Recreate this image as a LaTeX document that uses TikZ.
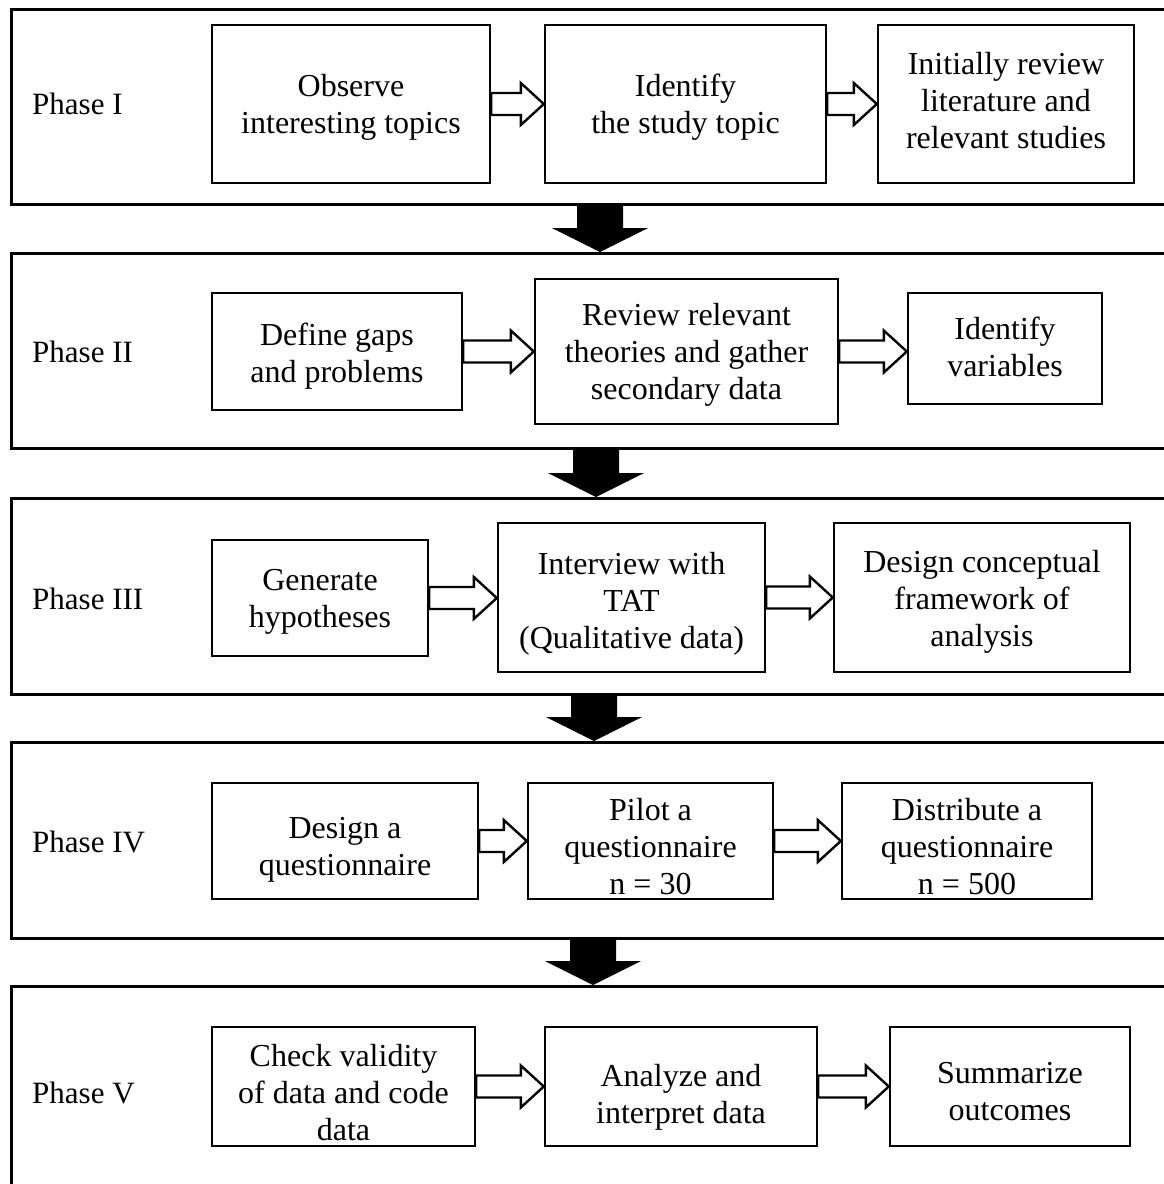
\documentclass[tikz,border=0pt]{standalone}
\usepackage{fontspec}
\setmainfont{Liberation Serif}
\usetikzlibrary{calc}

\tikzset{
  phasebox/.style={draw, line width=2.6pt, anchor=north west, minimum width=1220pt, inner sep=0pt},
  stagebox/.style={draw, line width=2.4pt, inner sep=2pt,
    font=\fontsize{32}{37}\selectfont},
  phaselabel/.style={anchor=west, inner sep=0pt, font=\fontsize{31}{37}\selectfont},
  hollowarrow/.style={draw, line width=2.4pt, fill=white, line join=miter},
  blockarrow/.style={fill=black, draw=none}
}

% stage box: name, centre x, centre y, width, height, text drop, text
\newcommand{\stage}[7]{%
  \node[stagebox, minimum width=#4pt, minimum height=#5pt] (#1) at (#2,#3)
    {\raisebox{-#6pt}[\height][\depth]{\begin{tabular}{@{}c@{}}#7\end{tabular}}};}

% hollow arrow between two stage boxes, at the height of the first box's centre
\newcommand{\hollowlink}[2]{%
  \path[hollowarrow] let \p1=(#1.east), \p2=(#2.west) in
    (\x1,\y1+11pt) -- (\x2-23pt,\y1+11pt) -- (\x2-23pt,\y1+21pt) -- (\x2,\y1)
    -- (\x2-23pt,\y1-21pt) -- (\x2-23pt,\y1-11pt) -- (\x1,\y1-11pt) -- cycle;}

% solid black arrow from one phase box down to the next, at column #3
\newcommand{\phaselink}[3]{%
  \path[blockarrow] let \p1=(#1.south), \p2=(#2.north) in
    (#3pt-23pt,\y1) -- (#3pt+23pt,\y1) -- (#3pt+23pt,\y2+24pt) -- (#3pt+48pt,\y2+24pt)
    -- (#3pt,\y2) -- (#3pt-48pt,\y2+24pt) -- (#3pt-23pt,\y2+24pt) -- cycle;}

\begin{document}
\begin{tikzpicture}[x=1pt,y=-1pt]
\useasboundingbox (0,0) rectangle (1164,1184);
\clip (0,0) rectangle (1164,1184);
\fill[white] (0,0) rectangle (1164,1184);

% phase frames
\node[phasebox, minimum height=195pt] (P1) at (10,8) {};
\node[phasebox, minimum height=195pt] (P2) at (10,252) {};
\node[phasebox, minimum height=196pt] (P3) at (10,497) {};
\node[phasebox, minimum height=196pt] (P4) at (10,741) {};
\node[phasebox, minimum height=260pt] (P5) at (10,985) {};

% phase labels
\node[phaselabel] (L1) at (32,104) {Phase I};
\node[phaselabel] (L2) at (32,352) {Phase II};
\node[phaselabel] (L3) at (32,599) {Phase III};
\node[phaselabel] (L4) at (32,842) {Phase IV};
\node[phaselabel] (L5) at (32,1093) {Phase V};

% Phase I
\stage{b11}{351}{104}{278}{158}{4}{Observe\\interesting topics}
\stage{b12}{685.5}{104}{281}{158}{4}{Identify\\the study topic}
\stage{b13}{1006}{104}{256}{158}{0}{Initially review\\literature and\\relevant studies}

% Phase II
\stage{b21}{337}{351.5}{250}{117}{5}{Define gaps\\and problems}
\stage{b22}{686.5}{351.5}{303}{145}{4}{Review relevant\\theories and gather\\secondary data}
\stage{b23}{1005}{348.5}{194}{111}{2}{Identify\\variables}

% Phase III
\stage{b31}{320}{598}{216}{116}{4}{Generate\\hypotheses}
\stage{b32}{631.5}{597.5}{267}{149}{7}{Interview with\\TAT\\(Qualitative data)}
\stage{b33}{982}{597.5}{296}{149}{5}{Design conceptual\\framework of\\analysis}

% Phase IV
\stage{b41}{345}{841}{266}{116}{9}{Design a\\questionnaire}
\stage{b42}{650.5}{841}{245}{116}{9}{Pilot a\\questionnaire\\n = 30}
\stage{b43}{967}{841}{250}{116}{9}{Distribute a\\questionnaire\\n = 500}

% Phase V
\stage{b51}{343.5}{1086.5}{263}{119}{10}{Check validity\\of data and code\\data}
\stage{b52}{681}{1086.5}{272}{119}{11}{Analyze and\\interpret data}
\stage{b53}{1010}{1086.5}{240}{119}{8}{Summarize\\outcomes}

% links within each phase
\hollowlink{b11}{b12}
\hollowlink{b12}{b13}
\hollowlink{b21}{b22}
\hollowlink{b22}{b23}
\hollowlink{b31}{b32}
\hollowlink{b32}{b33}
\hollowlink{b41}{b42}
\hollowlink{b42}{b43}
\hollowlink{b51}{b52}
\hollowlink{b52}{b53}

% links between phases
\phaselink{P1}{P2}{600}
\phaselink{P2}{P3}{596}
\phaselink{P3}{P4}{594}
\phaselink{P4}{P5}{593}
\end{tikzpicture}
\end{document}
